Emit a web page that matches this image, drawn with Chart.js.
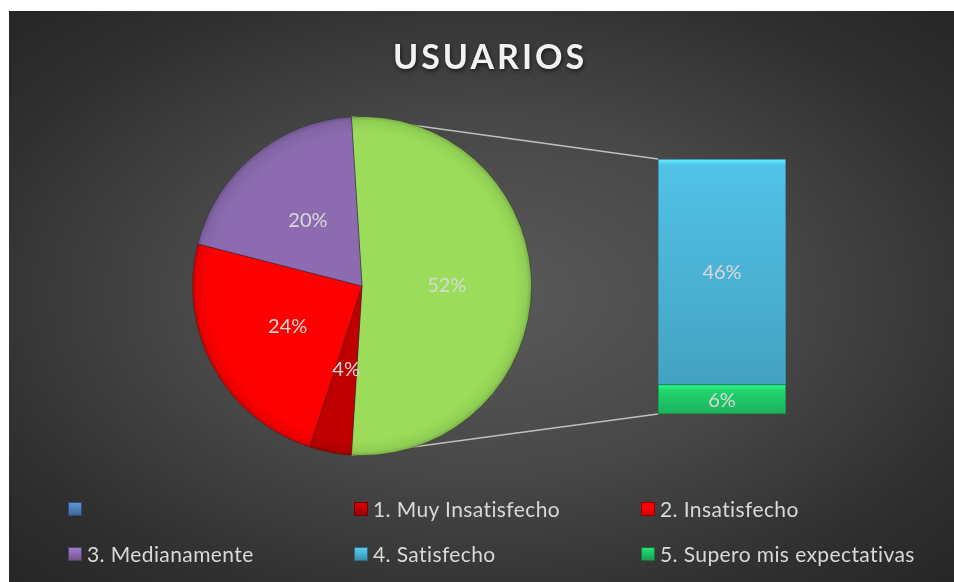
<!DOCTYPE html>
<html>
<head>
<meta charset="utf-8">
<script src="https://cdn.jsdelivr.net/npm/chart.js@4.4.1/dist/chart.umd.min.js"></script>
<style>
  html, body { margin: 0; padding: 0; background: #fff; }
  #stage { position: relative; width: 954px; height: 582px; overflow: hidden; }
  #bg {
    position: absolute; left: 9px; top: 11px; right: 0; bottom: 0;
    background: radial-gradient(ellipse farthest-corner at 50% 50%, #5a5a5a 0%, #474747 45%, #2f2f2f 80%, #262626 100%);
  }
  canvas { position: absolute; left: 0; top: 0; }
  #legend {
    position: absolute; left: 68px; top: 486px;
    display: grid; grid-template-columns: 286px 287px 300px; grid-auto-rows: 45px;
    align-items: center;
    font-family: Lato, "Open Sans", sans-serif; font-size: 21px; letter-spacing: 0.4px; color: #d9d9d9;
  }
  .item { display: flex; align-items: center; white-space: nowrap; }
  .mark { width: 14px; height: 14px; margin-right: 5px; box-sizing: border-box; }
</style>
</head>
<body>
<div id="stage">
  <div id="bg"></div>
  <canvas id="bar" width="954" height="582"></canvas>
  <canvas id="pie" width="954" height="582"></canvas>
  <div id="legend"></div>
</div>
<script>
// Data
const chartTitle = 'USUARIOS';
const categories = ['1. Muy Insatisfecho', '2. Insatisfecho', '3. Medianamente', '4. Satisfecho', '5. Supero mis expectativas'];
const values = [4, 24, 20, 46, 6];
const colors = ['#c00000', '#ff0000', '#8c6bb1', '#4bb4d6', '#1fc566'];
const otherColor = '#4f81bd';
const otherSliceColor = '#9bdd5a';
const splitCount = 2; // last N categories go in the bar

const pieCats = categories.slice(0, categories.length - splitCount);
const barCats = categories.slice(categories.length - splitCount);
const pieVals = values.slice(0, values.length - splitCount);
const barVals = values.slice(values.length - splitCount);
const otherTotal = barVals.reduce((a, b) => a + b, 0);
const grandTotal = values.reduce((a, b) => a + b, 0);
const pieColors = [otherSliceColor].concat(colors.slice(0, pieVals.length));

function shade(hex, f) {
  const n = parseInt(hex.slice(1), 16);
  let r = (n >> 16) & 255, g = (n >> 8) & 255, b = n & 255;
  r = Math.round(r * f); g = Math.round(g * f); b = Math.round(b * f);
  return `rgb(${Math.min(r,255)},${Math.min(g,255)},${Math.min(b,255)})`;
}

// rim bevel for slices
function pieFill(c) {
  const base = pieColors[c.dataIndex];
  const a = c.chart.chartArea;
  if (!a) return base;
  const cx = (a.left + a.right) / 2, cy = (a.top + a.bottom) / 2;
  const r = Math.min(a.right - a.left, a.bottom - a.top) / 2;
  const g = c.chart.ctx.createRadialGradient(cx, cy, 0, cx, cy, r);
  g.addColorStop(0, base);
  g.addColorStop(0.9, base);
  g.addColorStop(0.97, shade(base, 0.93));
  g.addColorStop(1, shade(base, 0.78));
  return g;
}

const labelFont = '20px Lato, "Open Sans", sans-serif';

const titlePlugin = {
  id: 'usrTitle',
  afterDraw(chart) {
    const ctx = chart.ctx;
    ctx.save();
    ctx.font = 'bold 34px Lato, "Open Sans", sans-serif';
    ctx.letterSpacing = '3px';
    ctx.textAlign = 'center';
    ctx.textBaseline = 'alphabetic';
    ctx.shadowColor = 'rgba(0,0,0,0.6)';
    ctx.shadowBlur = 4;
    ctx.shadowOffsetX = 1;
    ctx.shadowOffsetY = 2;
    ctx.fillStyle = '#f2f2f2';
    ctx.fillText(chartTitle, 490, 69);
    ctx.restore();
  }
};

const pieLabels = {
  id: 'pieLabels',
  afterDatasetsDraw(chart) {
    const ctx = chart.ctx;
    const data = chart.data.datasets[0].data;
    ctx.save();
    ctx.font = labelFont;
    ctx.fillStyle = '#d9d9d9';
    ctx.textAlign = 'center';
    ctx.textBaseline = 'middle';
    chart.getDatasetMeta(0).data.forEach((el, i) => {
      const p = el.tooltipPosition();
      ctx.fillText(Math.round(data[i] / grandTotal * 100) + '%', p.x, p.y);
    });
    ctx.restore();
  }
};

const pieChart = new Chart(document.getElementById('pie'), {
  type: 'pie',
  data: {
    labels: [''].concat(pieCats),
    datasets: [{
      data: [otherTotal].concat(pieVals),
      backgroundColor: pieFill,
      borderColor: 'rgba(40,40,40,0.45)',
      borderWidth: 1
    }]
  },
  options: {
    responsive: false,
    animation: false,
    // center the split slice on the right side
    rotation: 90 - otherTotal / grandTotal * 180,
    layout: { padding: { left: 192, right: 422, top: 116, bottom: 126 } },
    plugins: { legend: { display: false }, tooltip: { enabled: false } }
  },
  plugins: [pieLabels, titlePlugin]
});

// connector lines from the split slice to the bar
const connectors = {
  id: 'connectors',
  beforeDatasetsDraw(chart) {
    const arc = pieChart.getDatasetMeta(0).data[0];
    const p = arc.getProps(['x', 'y', 'startAngle', 'endAngle', 'outerRadius'], true);
    const top = chart.getDatasetMeta(1).data[0];
    const bot = chart.getDatasetMeta(0).data[0];
    const left = top.x - top.width / 2;
    const ctx = chart.ctx;
    ctx.save();
    ctx.strokeStyle = '#bfbfbf';
    ctx.lineWidth = 1.5;
    ctx.beginPath();
    ctx.moveTo(p.x + p.outerRadius * Math.cos(p.startAngle), p.y + p.outerRadius * Math.sin(p.startAngle));
    ctx.lineTo(left, top.y);
    ctx.moveTo(p.x + p.outerRadius * Math.cos(p.endAngle), p.y + p.outerRadius * Math.sin(p.endAngle));
    ctx.lineTo(left, bot.base);
    ctx.stroke();
    ctx.restore();
  }
};

const barLabels = {
  id: 'barLabels',
  afterDatasetsDraw(chart) {
    const ctx = chart.ctx;
    ctx.save();
    ctx.font = labelFont;
    ctx.fillStyle = '#d9d9d9';
    ctx.textAlign = 'center';
    ctx.textBaseline = 'middle';
    chart.data.datasets.forEach((ds, i) => {
      const el = chart.getDatasetMeta(i).data[0];
      ctx.fillText(Math.round(ds.data[0] / grandTotal * 100) + '%', el.x, (el.y + el.base) / 2 + 1);
    });
    ctx.restore();
  }
};

// bottom of the stack first
const stackOrder = barCats.map((c, i) => i).reverse();

function barFill(c) {
  const k = stackOrder[c.datasetIndex];
  const base = colors[pieVals.length + k];
  const y = c.chart.scales.y;
  if (!y || !c.chart.chartArea) return base;
  let start = 0;
  for (let j = 0; j < c.datasetIndex; j++) start += barVals[stackOrder[j]];
  const b = y.getPixelForValue(start), t = y.getPixelForValue(start + barVals[k]);
  if (!isFinite(b) || !isFinite(t)) return base;
  const g = c.chart.ctx.createLinearGradient(0, t, 0, b);
  g.addColorStop(0, shade(base, 1.35));
  g.addColorStop(Math.min(0.5, 6 / (b - t)), shade(base, 1.08));
  g.addColorStop(1, shade(base, 0.9));
  return g;
}

const barSets = stackOrder.map((k) => ({
  label: barCats[k],
  data: [barVals[k]],
  backgroundColor: barFill,
  borderColor: shade(colors[pieVals.length + k], 0.7),
  borderWidth: 1,
  borderSkipped: false
}));

new Chart(document.getElementById('bar'), {
  type: 'bar',
  data: { labels: [''], datasets: barSets },
  options: {
    responsive: false,
    animation: false,
    layout: { padding: { left: 658, right: 168, top: 159, bottom: 168 } },
    datasets: { bar: { categoryPercentage: 1, barPercentage: 1 } },
    scales: {
      x: { display: false, stacked: true },
      y: { display: false, stacked: true, min: 0, max: otherTotal }
    },
    plugins: { legend: { display: false }, tooltip: { enabled: false } }
  },
  plugins: [connectors, barLabels]
});

// legend
const legendNames = [''].concat(categories);
const legendColors = [otherColor].concat(colors);
const legendBox = document.getElementById('legend');
legendNames.forEach((name, i) => {
  const item = document.createElement('div');
  item.className = 'item';
  const c = legendColors[i];
  item.innerHTML = `<span class="mark" style="background:linear-gradient(180deg, ${shade(c, 1.15)} 0%, ${c} 45%, ${shade(c, 0.8)} 100%);border:1px solid ${shade(c, 0.6)}"></span><span>${name}</span>`;
  legendBox.appendChild(item);
});
</script>
</body>
</html>
